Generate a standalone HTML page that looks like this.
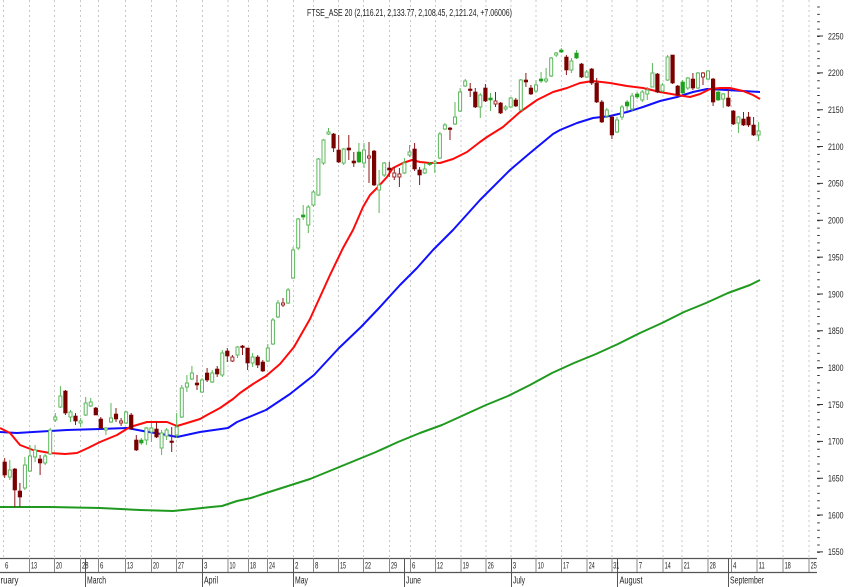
<!DOCTYPE html>
<html><head><meta charset="utf-8"><style>
html,body{margin:0;padding:0;background:#fff;}
svg{display:block;}
text{font-family:"Liberation Sans",Arial,sans-serif;fill:#222;}
</style></head><body>
<svg width="848" height="587" viewBox="0 0 848 587" xmlns="http://www.w3.org/2000/svg">
<rect width="848" height="587" fill="#fff"/>
<!-- grid -->
<g stroke="#c8c8c8" stroke-width="1" stroke-dasharray="2 3">
<path d="M3.5 0V557M29.5 0V557M54.5 0V557M80.5 0V557M98.5 0V557M125.5 0V557M151.5 0V557M176.5 0V557M202.5 0V557M228 0V557M248.5 0V557M267.5 0V557M293.5 0V557M313.5 0V557M338.5 0V557M363.5 0V557M389.5 0V557M410.5 0V557M435.5 0V557M461 0V557M486 0V557M511 0V557M536 0V557M561.5 0V557M587 0V557M612 0V557M637 0V557M663 0V557M682 0V557M708 0V557M731.5 0V557M757 0V557M783 0V557M809 0V557"/>
</g>
<!-- title -->
<text x="307" y="16" font-size="10" textLength="205" lengthAdjust="spacingAndGlyphs">FTSE_ASE 20 (2,116.21, 2,133.77, 2,108.45, 2,121.24, +7.06006)</text>
<!-- moving averages -->
<g fill="none" stroke-width="2" stroke-linejoin="round">
<polyline stroke="#1f9a1f" points="0,507 50,507 100,508 140,510 173,511 193,509 211,507 222,506 237,501 251,498 266,493 288,486 310,479 332,470 354,461 376,452 398,442 420,433 442,425 464,415 486,405 508,396 530,385 552,373 574,363 596,354 618,344 640,333 662,323 684,312 706,303 728,293 750,285 760,280"/>
<polyline stroke="#1010ff" points="0,432 17,433 33,432 67,430 100,429 127,428 143,431 167,435 177,437 200,432 228,428 237,422 266,410 290,394 314,375 339,348 361,327 380,307 400,285 417,268 433,250 453,230 480,200 510,170 530,153 553,134 560,130 577,123 593,118 610,116 627,112 643,107 660,101 677,97 693,92 707,89 727,90 743,91 760,92"/>
<polyline stroke="#ff0a0a" points="0,428 10,433 20,445 33,450 50,453 65,454 77,453 88,448 100,442 117,435 130,427 147,422 167,422 177,426 187,423 200,419 207,415 220,408 233,399 240,393 253,384 266,376 280,364 294,347 310,319 320,297 330,275 343,248 353,230 363,207 370,195 378,187 387,177 393,168 403,163 412,160 420,162 430,163 440,163 453,159 467,152 480,142 487,137 503,127 520,112 537,100 553,92 567,88 580,83 593,81 610,83 627,86 643,88 660,92 677,95 690,97 700,94 710,89 720,88 730,88 743,91 753,95 760,99"/>
</g>
<!-- wicks -->
<path fill="none" stroke="#5cb85c" stroke-width="1" d="M9.8 460V480M24.9 457V490M30 445V472M35.1 445V462M45.2 454V465M50.2 428V455M55.3 413V422M60.4 386V408M70.5 410V422M80.6 418V427M85.7 397V416M90.7 398V407M105.9 427V435M111 403V423M126.1 411V424M141.3 438V445M146.4 427V445M151.4 423V442M161.6 430V455M166.6 428V440M176.7 413V438M181.8 385V418M186.9 375V392M191.9 366V380M202 378V393M212.2 370V383M222.3 350V377M237.5 346V358M252.6 353V367M267.8 344V362M272.9 318V345M277.9 300V318M288.1 288V304M293.1 247V279M298.2 218V250M303.2 205V220M308.3 205V233M313.4 190V207M318.4 158V196M323.5 139V165M328.5 128V135M343.7 148V165M358.9 143V163M364 143V168M379.1 170V213M384.2 162V177M404.4 158V174M409.5 145V157M424.7 163V174M429.7 162V166M434.8 160V173M439.9 132V159M444.9 123V130M455 102V125M460.1 88V112M465.2 79V87M480.3 93V118M490.5 93V111M505.6 105V111M510.7 97V108M520.8 79V111M536 80V93M541.1 72V83M546.1 68V83M551.2 57V77M556.2 52V57M561.3 48V53M571.4 58V73M576.5 50V59M586.6 70V78M606.8 108V118M617 117V133M622 105V120M627.1 100V111M632.1 93V111M637.2 92V99M642.3 90V102M647.3 87V100M652.4 63V87M662.5 83V92M667.6 55V81M682.7 80V94M687.8 77V90M697.9 72V89M708 70V80M718.2 90V101M723.2 93V108M738.4 116V133M758.6 122V141"/>
<path fill="none" stroke="#8b1a1a" stroke-width="1" d="M4.7 458V478M14.8 468V507M19.9 483V507M40.1 455V475M65.4 390V415M75.5 413V425M95.8 407V415M100.8 417V429M116 408V422M121.1 418V426M131.2 413V430M136.3 435V451M156.5 422V438M171.7 427V452M197 375V390M207.1 368V382M217.2 366V377M227.3 348V362M232.4 355V362M242.5 345V355M247.6 348V370M257.7 355V368M262.8 360V372M283 298V307M333.6 133V152M338.7 135V163M348.8 135V160M353.8 152V167M369 142V183M374.1 150V186M389.3 162V177M394.3 167V180M399.4 168V187M414.6 143V171M419.6 167V185M450 127V140M470.2 83V97M475.3 88V108M485.4 84V102M495.5 92V107M500.6 102V114M515.8 98V107M525.9 73V87M530.9 85V95M566.4 55V75M581.5 63V78M591.7 68V85M596.7 78V103M601.8 100V123M611.9 115V139M657.4 73V93M672.6 55V84M677.7 85V98M692.9 73V90M703 72V85M713.1 78V106M728.3 90V107M733.3 110V125M743.5 112V126M748.5 112V127M753.6 117V136"/>
<!-- hollow green bodies -->
<g fill="#fff" stroke="#5cb85c" stroke-width="1">
<rect x="8.3" y="470" width="3" height="7"/><rect x="23.4" y="465" width="3" height="23"/><rect x="28.5" y="456" width="3" height="15"/><rect x="33.6" y="450" width="3" height="7"/><rect x="43.7" y="456" width="3" height="7"/><rect x="48.7" y="430" width="3" height="24"/><rect x="53.8" y="417" width="3" height="3"/><rect x="58.9" y="396" width="3" height="11"/><rect x="69" y="412" width="3" height="5"/><rect x="79.1" y="421" width="3" height="2"/><rect x="84.2" y="403" width="3" height="12"/><rect x="89.2" y="402" width="3" height="4"/><rect x="104.4" y="428" width="3" height="2"/><rect x="109.5" y="418" width="3" height="4"/><rect x="124.6" y="412" width="3" height="11"/><rect x="144.9" y="428" width="3" height="12"/><rect x="149.9" y="428" width="3" height="4"/><rect x="160.1" y="433" width="3" height="15"/><rect x="165.1" y="430" width="3" height="6"/><rect x="175.2" y="427" width="3" height="8"/><rect x="180.3" y="388" width="3" height="29"/><rect x="185.4" y="383" width="3" height="4"/><rect x="190.4" y="373" width="3" height="6"/><rect x="200.5" y="380" width="3" height="12"/><rect x="210.7" y="373" width="3" height="9"/><rect x="220.8" y="353" width="3" height="22"/><rect x="236" y="347" width="3" height="8"/><rect x="251.1" y="357" width="3" height="6"/><rect x="266.3" y="348" width="3" height="13"/><rect x="271.4" y="320" width="3" height="24"/><rect x="276.4" y="303" width="3" height="14"/><rect x="286.6" y="290" width="3" height="13"/><rect x="291.6" y="250" width="3" height="28"/><rect x="296.7" y="219" width="3" height="29"/><rect x="306.8" y="207" width="3" height="18"/><rect x="311.9" y="192" width="3" height="13"/><rect x="316.9" y="159" width="3" height="36"/><rect x="322" y="140" width="3" height="23"/><rect x="327" y="132" width="3" height="2"/><rect x="342.2" y="149" width="3" height="14"/><rect x="362.5" y="150" width="3" height="13"/><rect x="377.6" y="185" width="3" height="5"/><rect x="382.7" y="163" width="3" height="12"/><rect x="402.9" y="163" width="3" height="10"/><rect x="408" y="152" width="3" height="3"/><rect x="423.2" y="169" width="3" height="4"/><rect x="433.3" y="162" width="3" height="1.5"/><rect x="438.4" y="134" width="3" height="24"/><rect x="443.4" y="125" width="3" height="4"/><rect x="453.5" y="117" width="3" height="7"/><rect x="458.6" y="92" width="3" height="19"/><rect x="463.7" y="81" width="3" height="5"/><rect x="478.8" y="95" width="3" height="12"/><rect x="504.1" y="107" width="3" height="2"/><rect x="509.2" y="98" width="3" height="9"/><rect x="519.3" y="80" width="3" height="30"/><rect x="534.5" y="85" width="3" height="6"/><rect x="544.6" y="79" width="3" height="2"/><rect x="549.7" y="58" width="3" height="18"/><rect x="554.7" y="53" width="3" height="2"/><rect x="569.9" y="61" width="3" height="9"/><rect x="585.1" y="72" width="3" height="5"/><rect x="605.3" y="110" width="3" height="6"/><rect x="615.5" y="120" width="3" height="12"/><rect x="620.5" y="107" width="3" height="10"/><rect x="630.6" y="96" width="3" height="13"/><rect x="640.8" y="92" width="3" height="8"/><rect x="645.8" y="90" width="3" height="4"/><rect x="650.9" y="73" width="3" height="14"/><rect x="661" y="85" width="3" height="6"/><rect x="666.1" y="57" width="3" height="23"/><rect x="686.3" y="78" width="3" height="10"/><rect x="696.4" y="73" width="3" height="15"/><rect x="706.5" y="71" width="3" height="8"/><rect x="721.7" y="94" width="3" height="5"/><rect x="736.9" y="117" width="3" height="6"/><rect x="757.1" y="131" width="3" height="4"/>
</g>
<!-- filled green bodies -->
<g fill="#1ea01e" stroke="#1ea01e" stroke-width="0.6">
<rect x="139.5" y="440" width="3.6" height="3"/><rect x="301.4" y="215" width="3.6" height="2"/><rect x="357.1" y="152" width="3.6" height="10"/><rect x="427.9" y="163" width="3.6" height="1.5"/><rect x="488.7" y="98" width="3.6" height="2"/><rect x="539.3" y="79" width="3.6" height="2"/><rect x="559.5" y="50" width="3.6" height="2"/><rect x="574.7" y="53" width="3.6" height="5"/><rect x="625.3" y="102" width="3.6" height="4"/><rect x="635.4" y="94" width="3.6" height="3"/><rect x="680.9" y="82" width="3.6" height="11"/><rect x="716.4" y="92" width="3.6" height="8"/>
</g>
<!-- red bodies -->
<g fill="#7a0000" stroke="#7a0000" stroke-width="0.6">
<rect x="2.9" y="462" width="3.6" height="13"/><rect x="13" y="469" width="3.6" height="21"/><rect x="18.1" y="491" width="3.6" height="6"/><rect x="38.3" y="459" width="3.6" height="4"/><rect x="63.6" y="391" width="3.6" height="22"/><rect x="73.7" y="416" width="3.6" height="5"/><rect x="94" y="408" width="3.6" height="7"/><rect x="99" y="419" width="3.6" height="9"/><rect x="114.2" y="414" width="3.6" height="5"/><rect x="129.4" y="415" width="3.6" height="14"/><rect x="134.5" y="440" width="3.6" height="10"/><rect x="154.7" y="429" width="3.6" height="8"/><rect x="169.9" y="441" width="3.6" height="1.5"/><rect x="195.2" y="383" width="3.6" height="2"/><rect x="205.3" y="373" width="3.6" height="7"/><rect x="215.4" y="369" width="3.6" height="5"/><rect x="225.5" y="351" width="3.6" height="5"/><rect x="240.7" y="346" width="3.6" height="1.5"/><rect x="245.8" y="348" width="3.6" height="15"/><rect x="255.9" y="357" width="3.6" height="8"/><rect x="261" y="362" width="3.6" height="9"/><rect x="331.8" y="134" width="3.6" height="14"/><rect x="336.9" y="150" width="3.6" height="12"/><rect x="347" y="148" width="3.6" height="2"/><rect x="352" y="161" width="3.6" height="2"/><rect x="372.3" y="151" width="3.6" height="34"/><rect x="387.5" y="168" width="3.6" height="2"/><rect x="412.8" y="149" width="3.6" height="20"/><rect x="417.8" y="170" width="3.6" height="5"/><rect x="448.2" y="128" width="3.6" height="1.5"/><rect x="468.4" y="89" width="3.6" height="1.5"/><rect x="473.5" y="92" width="3.6" height="15"/><rect x="483.6" y="88" width="3.6" height="13"/><rect x="498.8" y="103" width="3.6" height="10"/><rect x="514" y="100" width="3.6" height="6"/><rect x="524.1" y="80" width="3.6" height="2"/><rect x="529.1" y="88" width="3.6" height="6"/><rect x="564.6" y="57" width="3.6" height="13"/><rect x="579.7" y="64" width="3.6" height="13"/><rect x="589.9" y="69" width="3.6" height="14"/><rect x="594.9" y="83" width="3.6" height="19"/><rect x="600" y="102" width="3.6" height="20"/><rect x="610.1" y="117" width="3.6" height="18"/><rect x="655.6" y="74" width="3.6" height="18"/><rect x="670.8" y="55" width="3.6" height="28"/><rect x="675.9" y="86" width="3.6" height="9"/><rect x="691.1" y="79" width="3.6" height="9"/><rect x="711.3" y="79" width="3.6" height="23"/><rect x="726.5" y="98" width="3.6" height="8"/><rect x="731.5" y="111" width="3.6" height="13"/><rect x="741.7" y="119" width="3.6" height="6"/><rect x="746.7" y="117" width="3.6" height="8"/><rect x="751.8" y="125" width="3.6" height="10"/>
</g>
<!-- red hollow (doji) bodies -->
<g fill="#fff" stroke="#a52a2a" stroke-width="1">
<rect x="119.6" y="421" width="3" height="2"/><rect x="230.9" y="357" width="3" height="4"/><rect x="281.5" y="303" width="3" height="2"/><rect x="367.5" y="156" width="3" height="2"/><rect x="392.8" y="173" width="3" height="4"/><rect x="397.9" y="174" width="3" height="3"/><rect x="494" y="101" width="3" height="3"/><rect x="701.5" y="73" width="3" height="4"/>
</g>
<!-- right axis ticks -->
<line x1="818.5" y1="6.5" x2="818.5" y2="553" stroke="#333" stroke-width="2.5" stroke-dasharray="1 6.37"/>
<line x1="820" y1="35.5" x2="820" y2="553" stroke="#333" stroke-width="6" stroke-dasharray="1 35.85"/>
<g font-size="9">
<text x="828" y="39.3" textLength="15.5" lengthAdjust="spacingAndGlyphs">2250</text>
<text x="828" y="76.2" textLength="15.5" lengthAdjust="spacingAndGlyphs">2200</text>
<text x="828" y="113" textLength="15.5" lengthAdjust="spacingAndGlyphs">2150</text>
<text x="828" y="149.9" textLength="15.5" lengthAdjust="spacingAndGlyphs">2100</text>
<text x="828" y="186.7" textLength="15.5" lengthAdjust="spacingAndGlyphs">2050</text>
<text x="828" y="223.6" textLength="15.5" lengthAdjust="spacingAndGlyphs">2000</text>
<text x="828" y="260.4" textLength="15.5" lengthAdjust="spacingAndGlyphs">1950</text>
<text x="828" y="297.3" textLength="15.5" lengthAdjust="spacingAndGlyphs">1900</text>
<text x="828" y="334.1" textLength="15.5" lengthAdjust="spacingAndGlyphs">1850</text>
<text x="828" y="371" textLength="15.5" lengthAdjust="spacingAndGlyphs">1800</text>
<text x="828" y="407.8" textLength="15.5" lengthAdjust="spacingAndGlyphs">1750</text>
<text x="828" y="444.7" textLength="15.5" lengthAdjust="spacingAndGlyphs">1700</text>
<text x="828" y="481.5" textLength="15.5" lengthAdjust="spacingAndGlyphs">1650</text>
<text x="828" y="518.4" textLength="15.5" lengthAdjust="spacingAndGlyphs">1600</text>
<text x="828" y="555.2" textLength="15.5" lengthAdjust="spacingAndGlyphs">1550</text>
</g>
<!-- bottom axis -->
<g stroke="#555" stroke-width="1.2">
<line x1="0" y1="558.5" x2="817" y2="558.5"/>
<line x1="0" y1="572.5" x2="817" y2="572.5"/>
</g>
<path fill="none" stroke="#888" stroke-width="1" d="M29.5 558V572M54.5 558V572M80.5 558V572M98.5 558V572M125.5 558V572M151.5 558V572M176.5 558V572M228 558V572M248.5 558V572M267.5 558V572M313.5 558V572M338.5 558V572M363.5 558V572M389.5 558V572M410.5 558V572M435.5 558V572M461 558V572M486 558V572M536 558V572M561.5 558V572M587 558V572M612 558V572M637 558V572M663 558V572M682 558V572M708 558V572M731.5 558V572M757 558V572M783 558V572M809 558V572"/>
<path fill="none" stroke="#555" stroke-width="1" d="M85.5 558V587M202.5 558V587M293.5 558V587M404.5 558V587M511.5 558V587M617.5 558V587M728.5 558V587"/>
<g font-size="9.5">
<text x="5" y="568.5" textLength="3.4" lengthAdjust="spacingAndGlyphs">6</text>
<text x="31" y="568.5" textLength="6" lengthAdjust="spacingAndGlyphs">13</text>
<text x="56" y="568.5" textLength="6" lengthAdjust="spacingAndGlyphs">20</text>
<text x="82" y="568.5" textLength="6.5" lengthAdjust="spacingAndGlyphs">28</text>
<text x="100" y="568.5" textLength="3.4" lengthAdjust="spacingAndGlyphs">6</text>
<text x="127" y="568.5" textLength="6" lengthAdjust="spacingAndGlyphs">13</text>
<text x="153" y="568.5" textLength="6" lengthAdjust="spacingAndGlyphs">20</text>
<text x="178" y="568.5" textLength="6" lengthAdjust="spacingAndGlyphs">27</text>
<text x="204" y="568.5" textLength="3.4" lengthAdjust="spacingAndGlyphs">3</text>
<text x="229.5" y="568.5" textLength="6" lengthAdjust="spacingAndGlyphs">10</text>
<text x="250" y="568.5" textLength="6" lengthAdjust="spacingAndGlyphs">18</text>
<text x="269" y="568.5" textLength="6" lengthAdjust="spacingAndGlyphs">24</text>
<text x="295" y="568.5" textLength="3.4" lengthAdjust="spacingAndGlyphs">2</text>
<text x="315" y="568.5" textLength="3.4" lengthAdjust="spacingAndGlyphs">8</text>
<text x="340" y="568.5" textLength="6" lengthAdjust="spacingAndGlyphs">15</text>
<text x="365" y="568.5" textLength="6" lengthAdjust="spacingAndGlyphs">22</text>
<text x="391" y="568.5" textLength="6" lengthAdjust="spacingAndGlyphs">29</text>
<text x="412" y="568.5" textLength="3.4" lengthAdjust="spacingAndGlyphs">6</text>
<text x="437" y="568.5" textLength="6" lengthAdjust="spacingAndGlyphs">12</text>
<text x="462.7" y="568.5" textLength="6" lengthAdjust="spacingAndGlyphs">19</text>
<text x="487.7" y="568.5" textLength="6" lengthAdjust="spacingAndGlyphs">26</text>
<text x="512.7" y="568.5" textLength="3.4" lengthAdjust="spacingAndGlyphs">3</text>
<text x="537.7" y="568.5" textLength="6" lengthAdjust="spacingAndGlyphs">10</text>
<text x="563" y="568.5" textLength="6" lengthAdjust="spacingAndGlyphs">17</text>
<text x="588.7" y="568.5" textLength="6" lengthAdjust="spacingAndGlyphs">24</text>
<text x="613.3" y="568.5" textLength="6" lengthAdjust="spacingAndGlyphs">31</text>
<text x="638.7" y="568.5" textLength="3.4" lengthAdjust="spacingAndGlyphs">7</text>
<text x="664.7" y="568.5" textLength="6" lengthAdjust="spacingAndGlyphs">14</text>
<text x="683.7" y="568.5" textLength="6" lengthAdjust="spacingAndGlyphs">21</text>
<text x="709.7" y="568.5" textLength="6" lengthAdjust="spacingAndGlyphs">28</text>
<text x="733" y="568.5" textLength="3.4" lengthAdjust="spacingAndGlyphs">4</text>
<text x="758.7" y="568.5" textLength="6" lengthAdjust="spacingAndGlyphs">11</text>
<text x="784.7" y="568.5" textLength="6" lengthAdjust="spacingAndGlyphs">18</text>
<text x="810.7" y="568.5" textLength="6" lengthAdjust="spacingAndGlyphs">25</text>
</g>
<g font-size="10">
<text x="0.5" y="583.5" textLength="18" lengthAdjust="spacingAndGlyphs">ruary</text>
<text x="87" y="583.5" textLength="19" lengthAdjust="spacingAndGlyphs">March</text>
<text x="204" y="583.5" textLength="14" lengthAdjust="spacingAndGlyphs">April</text>
<text x="295" y="583.5" textLength="13" lengthAdjust="spacingAndGlyphs">May</text>
<text x="406" y="583.5" textLength="15" lengthAdjust="spacingAndGlyphs">June</text>
<text x="513" y="583.5" textLength="12" lengthAdjust="spacingAndGlyphs">July</text>
<text x="619.5" y="583.5" textLength="23" lengthAdjust="spacingAndGlyphs">August</text>
<text x="730" y="583.5" textLength="34" lengthAdjust="spacingAndGlyphs">September</text>
</g>
</svg>
</body></html>
